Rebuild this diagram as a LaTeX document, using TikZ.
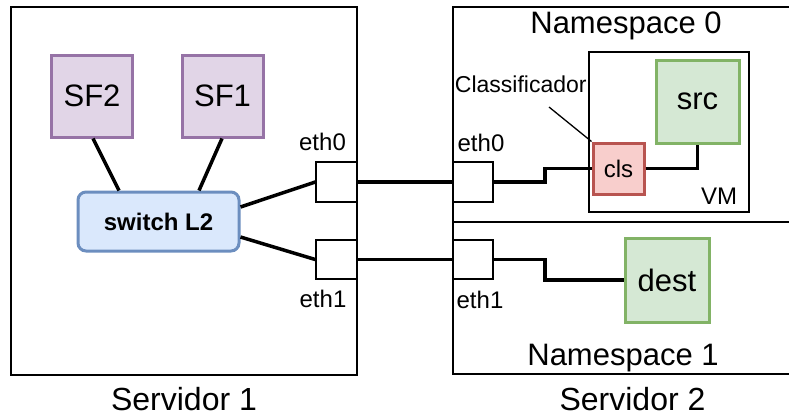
\documentclass[tikz,border=0pt]{standalone}
\usepackage{fontspec}
\setmainfont{Liberation Sans}
\usetikzlibrary{calc}
\definecolor{purF}{HTML}{E1D5E7}\definecolor{purD}{HTML}{9673A6}
\definecolor{bluF}{HTML}{DAE8FC}\definecolor{bluD}{HTML}{6C8EBF}
\definecolor{grnF}{HTML}{D5E8D4}\definecolor{grnD}{HTML}{82B366}
\definecolor{redF}{HTML}{F8CECC}\definecolor{redD}{HTML}{B85450}
\tikzset{
  big/.style={font=\fontsize{31}{36}\selectfont},
  small/.style={font=\fontsize{24}{28}\selectfont},
  lbl/.style={inner sep=0pt, anchor=base},
  sfbox/.style={draw=purD, fill=purF, line width=3pt, inner sep=0pt, big, minimum width=81pt, minimum height=82pt},
  grbox/.style={draw=grnD, fill=grnF, line width=3pt, inner sep=0pt, big},
  port/.style={draw, line width=1.5pt, fill=white, inner sep=0pt},
  frame/.style={draw, line width=2pt},
  wire/.style={line width=3.5pt},
}
\begin{document}
\begin{tikzpicture}[x=1pt,y=-1pt]
\useasboundingbox (0,0) rectangle (789,416);
\clip (0,0) rectangle (789,416);
% frames
\draw[frame] (10.7,7) rectangle (357,375);
\draw[frame] (453,7) rectangle (800,374);
\draw[frame] (453,222) -- (800,222);
\draw[frame] (589,52) rectangle (749,212);
% server 1 nodes
\node[sfbox] (sf2) at (92,96) {SF2};
\node[sfbox] (sf1) at (222.5,96) {SF1};
\node[draw=bluD, fill=bluF, line width=3pt, rounded corners=8pt, inner sep=0pt,
      minimum width=161pt, minimum height=59pt, font=\fontsize{24}{28}\selectfont\bfseries] (sw) at (158.5,221.5) {switch L2};
\node[port, minimum width=41pt, minimum height=40pt] (p1a) at (336.5,182) {};
\node[port, minimum width=41pt, minimum height=39pt] (p1b) at (336.5,259.5) {};
% server 2 nodes
\node[port, minimum width=40pt, minimum height=40pt] (p2a) at (473,182) {};
\node[port, minimum width=40pt, minimum height=39pt] (p2b) at (473,259.5) {};
\node[grbox, minimum width=83pt, minimum height=83pt] (src) at (697.5,101.5) {src};
\node[draw=redD, fill=redF, line width=3pt, inner sep=0pt, small, minimum width=51pt, minimum height=51pt] (cls) at (618.5,168.5) {cls};
\node[grbox, minimum width=84pt, minimum height=84pt] (dest) at (667,280) {dest};
% labels
\node[lbl, big] (ns0) at (626,33.3) {Namespace 0};
\node[lbl, big] (ns1) at (623,365) {Namespace 1};
\node[lbl, font=\fontsize{32}{36}\selectfont] (s1) at (184,410.7) {Servidor 1};
\node[lbl, font=\fontsize{32}{36}\selectfont] (s2) at (632.5,410.7) {Servidor 2};
\node[lbl, small] (e10) at (322.5,150) {eth0};
\node[lbl, small] (e11) at (323,307) {eth1};
\node[lbl, small] (e20) at (481,151.7) {eth0};
\node[lbl, small] (e21) at (480,308) {eth1};
\node[lbl, small] (vm) at (719,204) {VM};
\node[lbl, font=\fontsize{23}{27}\selectfont] (clab) at (520.8,92.7) {Classificador};
\coordinate (ctip) at (549,107);
% connectors
\draw[wire] ([xshift=1pt]sf2.south) -- ([xshift=-39.5pt]sw.north);
\draw[wire] ([xshift=-0.5pt]sf1.south) -- ([xshift=40.5pt]sw.north);
\draw[wire] ([yshift=14.5pt]sw.east) -- (p1a.west);
\draw[wire] ([yshift=-15.5pt]sw.east) -- (p1b.west);
\draw[wire] (p1a.east) -- (p2a.west);
\draw[wire] (p1b.east) -- (p2b.west);
\draw[wire] (p2a.east) -- ++(51,0) |- (cls.west);
\draw[wire] (cls.east) -| (src.south);
\draw[wire] (p2b.east) -- ++(51,0) |- (dest.west);
\draw[line width=1.3pt] (ctip) -- (cls.north west);
\end{tikzpicture}
\end{document}
